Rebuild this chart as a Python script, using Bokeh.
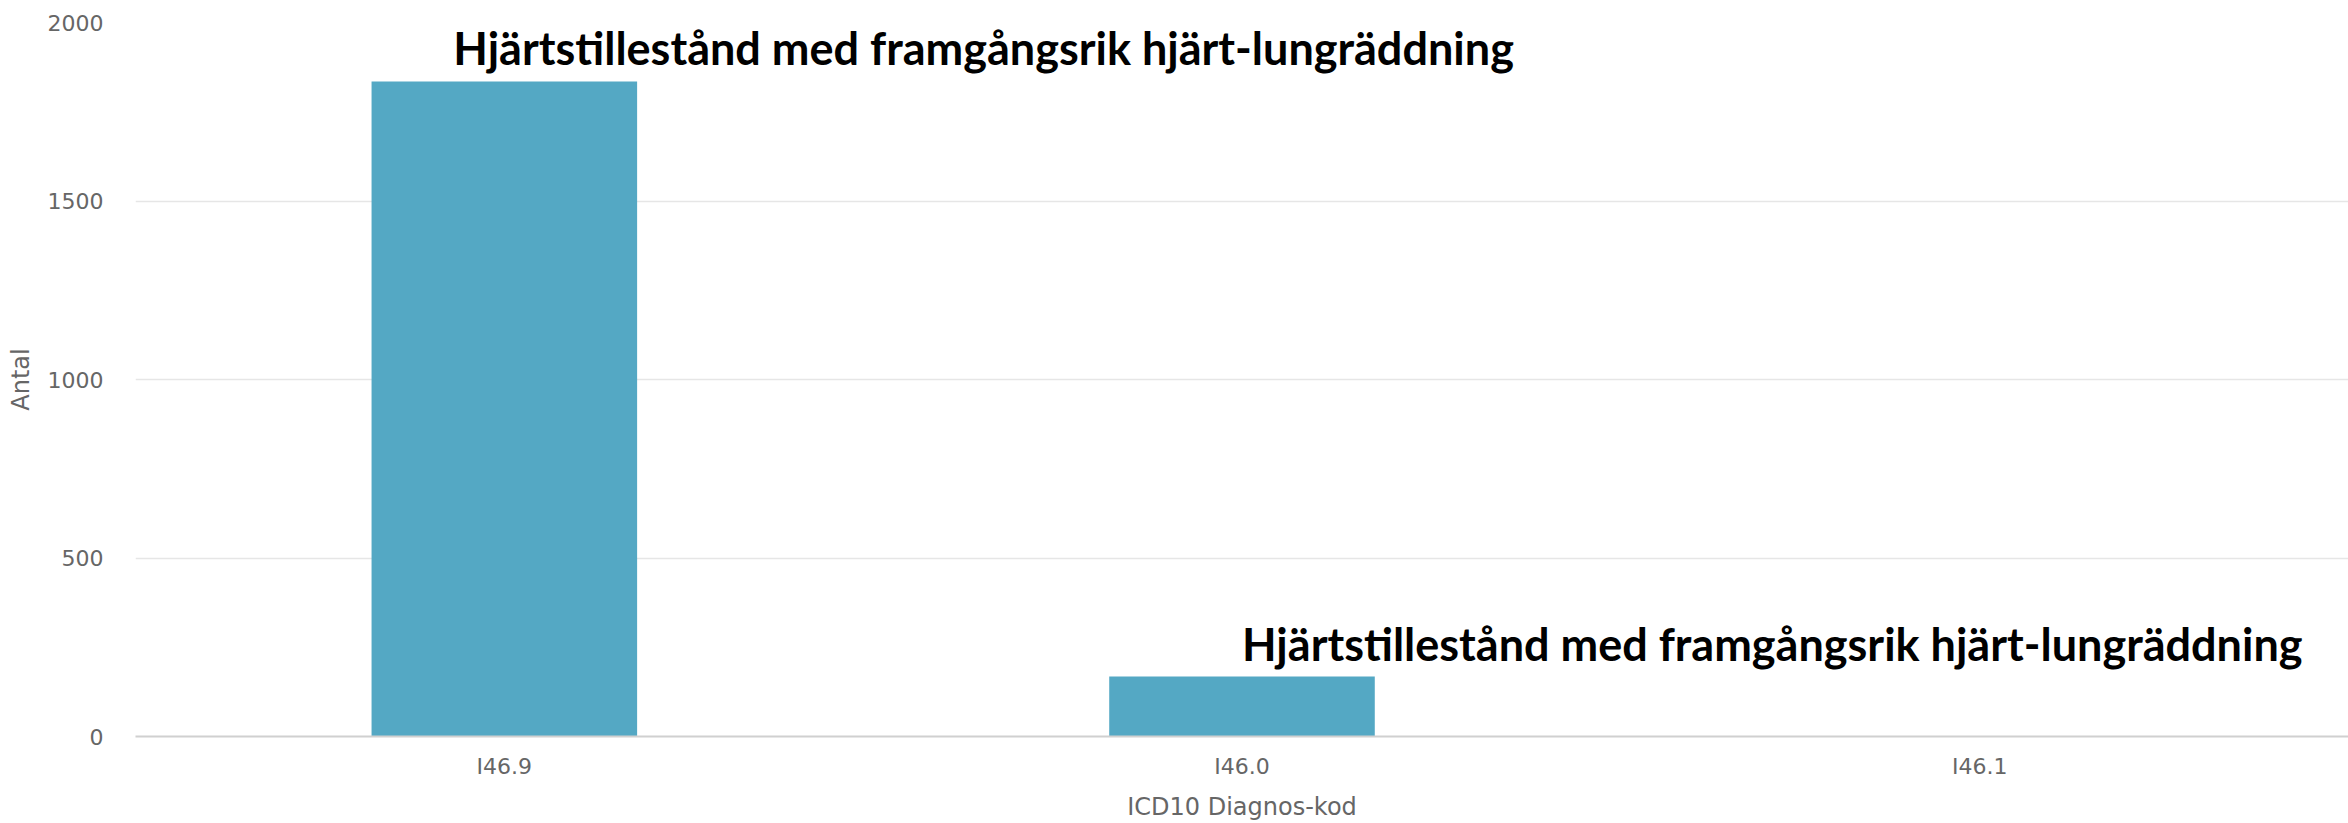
from bokeh.plotting import figure
from bokeh.models import FixedTicker, ColumnDataSource, FactorRange, Range1d
from bokeh.core.properties import value
from bokeh.embed import file_html
from bokeh.resources import INLINE

# ---- data ----
categories = ["I46.9", "I46.0", "I46.1"]
counts = [1835, 168, 0]
y_ticks = [0, 500, 1000, 1500, 2000]
note_categories = ["I46.9", "I46.0"]
note_values = [1835, 168]
note_texts = ["Hjärtstillestånd med framgångsrik hjärt-lungräddning",
              "Hjärtstillestånd med framgångsrik hjärt-lungräddning"]
note_x_offsets = [-51, 0]

p = figure(x_range=FactorRange(*categories, range_padding=0),
           y_range=Range1d(0, 2000),
           width=2348, height=823,
           output_backend="svg", toolbar_location=None,
           min_border_left=135, min_border_right=0,
           min_border_top=22, min_border_bottom=85)
p.outline_line_color = None
p.background_fill_color = "white"

src = ColumnDataSource(dict(cat=categories, n=counts))
p.vbar(x="cat", top="n", width=0.36, source=src,
       fill_color="#54a8c4", line_color=None)

nsrc = ColumnDataSource(dict(cat=note_categories, v=note_values,
                             t=note_texts, dx=note_x_offsets))
p.text(x="cat", y="v", text="t", source=nsrc, x_offset="dx", y_offset=-33,
       text_font=value("Lato"), text_font_style="bold",
       text_font_size="45px", text_color="black",
       text_align="left", text_baseline="alphabetic")

# grid
p.xgrid.grid_line_color = None
p.ygrid.grid_line_color = "#e6e6e6"
p.ygrid.grid_line_width = 1.5

# y axis
p.yaxis.ticker = FixedTicker(ticks=y_ticks)
p.yaxis.axis_line_color = None
p.yaxis.major_tick_line_color = None
p.yaxis.major_tick_out = 0
p.yaxis.minor_tick_line_color = None
p.yaxis.major_label_text_font = "DejaVu Sans"
p.yaxis.major_label_text_font_size = "22px"
p.yaxis.major_label_text_color = "#666666"
p.yaxis.major_label_standoff = 32
p.yaxis.axis_label = "Antal"
p.yaxis.axis_label_text_font = "DejaVu Sans"
p.yaxis.axis_label_text_font_style = "normal"
p.yaxis.axis_label_text_font_size = "24px"
p.yaxis.axis_label_text_color = "#666666"
p.yaxis.axis_label_standoff = 10

# x axis
p.xaxis.axis_line_color = "#d0d0d0"
p.xaxis.axis_line_width = 2
p.xaxis.major_tick_line_color = None
p.xaxis.major_tick_out = 0
p.xaxis.minor_tick_line_color = None
p.xaxis.major_label_text_font = "DejaVu Sans"
p.xaxis.major_label_text_font_size = "22px"
p.xaxis.major_label_text_color = "#666666"
p.xaxis.major_label_standoff = 17
p.xaxis.axis_label = "ICD10 Diagnos-kod"
p.xaxis.axis_label_text_font = "DejaVu Sans"
p.xaxis.axis_label_text_font_style = "normal"
p.xaxis.axis_label_text_font_size = "24px"
p.xaxis.axis_label_text_color = "#666666"
p.xaxis.axis_label_standoff = 11

open("out.html", "w").write(file_html(p, INLINE))
